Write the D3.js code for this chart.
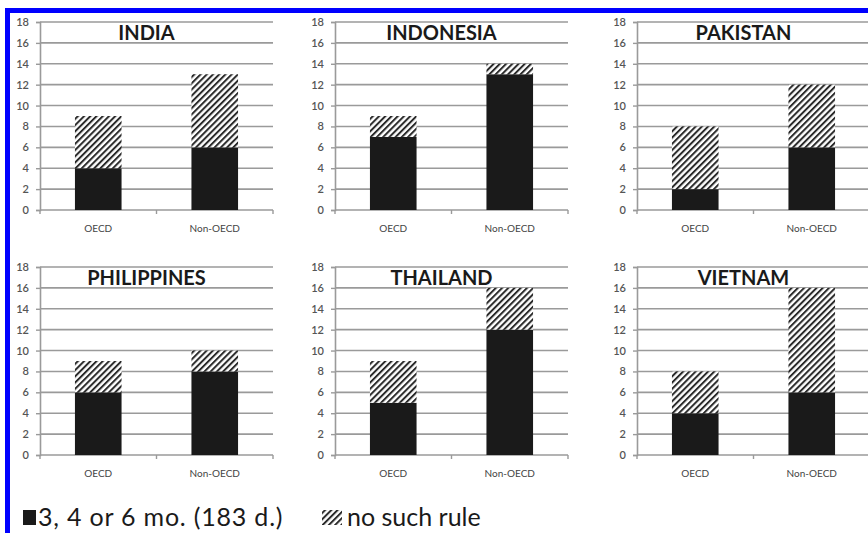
<!DOCTYPE html>
<html>
<head>
<meta charset="utf-8">
<script src="https://cdn.jsdelivr.net/npm/d3@7"></script>
<style>
  body { margin: 0; background: #fff; }
  svg { display: block; font-family: Lato, "Open Sans", sans-serif; }
  .tick text { fill: #555; }
</style>
</head>
<body>
<svg id="chart" width="868" height="533"></svg>
<script>
// data
const countries = ['INDIA', 'INDONESIA', 'PAKISTAN', 'PHILIPPINES', 'THAILAND', 'VIETNAM'];
const groups = ['OECD', 'Non-OECD'];
// "3, 4 or 6 mo. (183 d.)" values, per country [OECD, Non-OECD]
const ruleVals = [[4, 6], [7, 13], [2, 6], [6, 8], [5, 12], [4, 6]];
// "no such rule" values stacked on top
const noRuleVals = [[5, 7], [2, 1], [6, 6], [3, 2], [4, 4], [4, 10]];
const yTicks = [0, 2, 4, 6, 8, 10, 12, 14, 16, 18];
const legendLabels = ['3, 4 or 6 mo. (183 d.)', 'no such rule'];

const colX = [40, 335, 637],
	rowY = [22, 267],
	plotW = 233,
	plotH = 188;

const svg = d3.select('#chart');

// hatch pattern
const defs = svg.append('defs');
const pat = defs.append('pattern')
	.attr('id', 'hatch')
	.attr('patternUnits', 'userSpaceOnUse')
	.attr('width', 4.4)
	.attr('height', 4.4)
	.attr('patternTransform', 'rotate(45)');
pat.append('rect').attr('width', 4.4).attr('height', 4.4).attr('fill', '#fff');
pat.append('rect').attr('x', 0).attr('width', 2).attr('height', 4.4).attr('fill', '#2a2a2a');

// blue frame
svg.append('rect')
	.attr('x', 7.5).attr('y', 10.5)
	.attr('width', 900).attr('height', 600)
	.attr('fill', 'none')
	.attr('stroke', '#0000ff')
	.attr('stroke-width', 5);

const y = d3.scaleLinear().domain([0, 18]).range([plotH, 0]);
const x = d3.scaleBand().domain(groups).range([0, plotW]).paddingInner(0.6).paddingOuter(0.3);
const xEdges = d3.scalePoint().domain([0, 1, 2]).range([0, plotW]);

countries.forEach((name, i) => {
	let g = svg.append('g')
		.attr('transform', `translate(${colX[i % 3]},${rowY[Math.floor(i / 3)]})`);

	// grid lines
	g.append('g')
		.selectAll('line')
		.data(yTicks)
		.join('line')
		.attr('x1', 0).attr('x2', plotW)
		.attr('y1', d => y(d)).attr('y2', d => y(d))
		.attr('stroke', '#9a9a9a')
		.attr('stroke-width', 1.6);

	// y axis
	let yAxis = g.append('g')
		.call(d3.axisLeft(y).tickValues(yTicks).tickSize(4).tickPadding(7).tickFormat(d3.format('d')));
	yAxis.select('.domain').attr('stroke', '#9a9a9a').attr('stroke-width', 1.6);
	yAxis.selectAll('.tick line').attr('stroke', '#9a9a9a').attr('stroke-width', 1.4);
	yAxis.selectAll('text').attr('font-size', 11).attr('font-family', 'Lato').attr('font-weight', 600);

	// x axis edge ticks
	g.append('g')
		.selectAll('line')
		.data(xEdges.domain())
		.join('line')
		.attr('x1', d => xEdges(d)).attr('x2', d => xEdges(d))
		.attr('y1', plotH).attr('y2', plotH + 4)
		.attr('stroke', '#9a9a9a')
		.attr('stroke-width', 1.4);

	g.append('g')
		.selectAll('text')
		.data(groups)
		.join('text')
		.attr('x', d => x(d) + x.bandwidth() / 2)
		.attr('y', plotH + 22)
		.attr('text-anchor', 'middle')
		.attr('font-size', 10)
		.attr('fill', '#444')
		.text(d => d);

	// stacked bars
	let stacked = groups.map((grp, j) => ({ grp, a: ruleVals[i][j], b: noRuleVals[i][j] }));

	g.append('g')
		.selectAll('rect')
		.data(stacked)
		.join('rect')
		.attr('x', d => x(d.grp))
		.attr('width', x.bandwidth())
		.attr('y', d => y(d.a))
		.attr('height', d => y(0) - y(d.a))
		.attr('fill', '#1a1a1a');

	g.append('g')
		.selectAll('rect')
		.data(stacked)
		.join('rect')
		.attr('x', d => x(d.grp))
		.attr('width', x.bandwidth())
		.attr('y', d => y(d.a + d.b))
		.attr('height', d => y(d.a) - y(d.a + d.b))
		.attr('fill', 'url(#hatch)');

	// title
	g.append('text')
		.attr('x', plotW / 2 - 10)
		.attr('y', 18)
		.attr('text-anchor', 'middle')
		.attr('font-size', 20)
		.attr('font-weight', 'bold')
		.attr('fill', '#1a1a1a')
		.text(name);
});

// legend
let leg = svg.append('g');
leg.append('rect')
	.attr('x', 23).attr('y', 510)
	.attr('width', 13).attr('height', 15)
	.attr('fill', '#1a1a1a');
leg.append('text')
	.attr('x', 38).attr('y', 526)
	.attr('font-size', 25)
	.attr('letter-spacing', 0.8)
	.attr('fill', '#1a1a1a')
	.text(legendLabels[0]);

leg.append('rect')
	.attr('x', 322).attr('y', 510)
	.attr('width', 20).attr('height', 15)
	.attr('fill', 'url(#hatch)');
leg.append('text')
	.attr('x', 347).attr('y', 526)
	.attr('font-size', 25)
	.attr('fill', '#1a1a1a')
	.text(legendLabels[1]);
</script>
</body>
</html>
